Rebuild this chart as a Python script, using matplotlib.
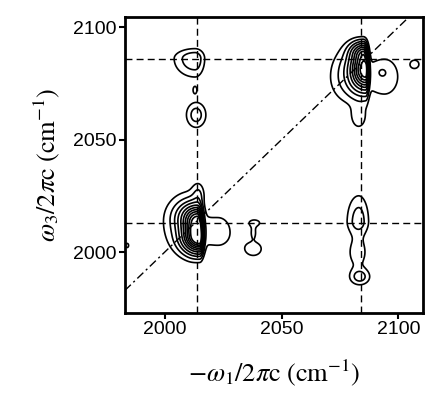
import numpy as np
import matplotlib.pyplot as plt

plt.rcParams["mathtext.fontset"] = "stix"
plt.rcParams["font.family"] = ["Liberation Sans", "DejaVu Sans"]

# peak table (cm^-1): centre, left/right/down/up widths, amplitude
peak_x = [2015, 2014, 2010, 2023, 2014.5,
          2086, 2085, 2079, 2094, 2093, 2083,
          2013, 2013, 2013.5, 2083, 2082.5, 2083.5,
          2038.5, 2038, 2038, 1984, 2107]
peak_y = [2007, 2016, 2012, 2009, 2026,
          2081, 2089, 2078, 2078, 2080, 2060,
          2086, 2072, 2061, 2014, 2000, 1989,
          2013, 2009, 2001.5, 2003, 2083.5]
sig_xl = [4.5, 5.0, 8.0, 8.0, 1.8,
          4.0, 3.5, 6.0, 7.0, 1.5, 2.5,
          6.0, 0.8, 3.0, 3.5, 3.5, 3.0,
          2.5, 1.0, 4.0, 1.0, 2.0]
sig_xr = [1.0, 1.2, 4.0, 5.5, 1.8,
          0.8, 1.0, 4.0, 5.5, 1.5, 2.5,
          2.8, 0.8, 3.0, 3.0, 3.5, 3.0,
          2.5, 1.0, 4.0, 1.0, 2.0]
sig_yd = [4.5, 4.0, 9.0, 6.5, 3.0,
          6.0, 3.0, 8.0, 7.5, 1.5, 4.0,
          5.5, 1.5, 4.0, 4.0, 6.0, 2.5,
          1.5, 2.0, 3.5, 1.5, 2.0]
sig_yu = [6.0, 4.0, 11.0, 7.0, 3.5,
          5.0, 3.0, 9.0, 7.5, 1.5, 4.0,
          3.0, 1.5, 4.0, 8.0, 6.0, 2.5,
          1.5, 2.0, 3.5, 1.5, 2.0]
amps = [1.0, 0.45, 0.1, 0.075, 0.08,
        0.9, 0.4, 0.12, 0.085, 0.03, 0.08,
        0.15, 0.07, 0.13, 0.13, 0.075, 0.12,
        0.07, 0.06, 0.07, 0.06, 0.07]

levels = [0.05, 0.1, 0.17, 0.25, 0.35, 0.45, 0.55, 0.65, 0.75, 0.85]
x_lines = [2014, 2084]
y_lines = [2013, 2086]
ticks = [2000, 2050, 2100]


def half_gauss(u, c, s_lo, s_hi):
    s = np.where(u < c, s_lo, s_hi)
    return np.exp(-(u - c) ** 2 / (2 * s ** 2))


w1 = np.arange(1975, 2115, 0.25)
w3 = np.arange(1965, 2112, 0.25)
X, Y = np.meshgrid(w1, w3)
Z = np.zeros_like(X)
for i in range(len(amps)):
    Z += amps[i] * half_gauss(X, peak_x[i], sig_xl[i], sig_xr[i]) * \
        half_gauss(Y, peak_y[i], sig_yd[i], sig_yu[i])

fig = plt.figure(figsize=(4.26, 4.0), dpi=100)
ax = fig.add_axes([0.293, 0.2175, 0.7, 0.74])

ax.contour(X, Y, Z, levels=levels, colors="black", linewidths=1.2)

for xv in x_lines:
    ax.axvline(xv, color="black", lw=1.0, ls=(0, (5, 3)))
for yv in y_lines:
    ax.axhline(yv, color="black", lw=1.0, ls=(0, (5, 3)))
ax.axline((2000, 2000), slope=1, color="black", lw=1.0, ls=(0, (6, 2.5, 1.5, 2.5)))

ax.set_xlim(1983, 2110.5)
ax.set_ylim(1973, 2104.5)
ax.set_xticks(ticks)
ax.set_yticks(ticks)
ax.tick_params(direction="out", length=4, width=1.5, labelsize=14, pad=2)
for sp in ax.spines.values():
    sp.set_linewidth(2)

ax.set_xlabel(r"$-\omega_{\mathrm{1}}/2\pi\mathrm{c}\ (\mathrm{cm}^{-1})$", fontsize=19, labelpad=14)
ax.set_ylabel(r"$\omega_{\mathrm{3}}/2\pi\mathrm{c}\ (\mathrm{cm}^{-1})$", fontsize=19, labelpad=8)

fig.savefig("out.png", dpi=100)
